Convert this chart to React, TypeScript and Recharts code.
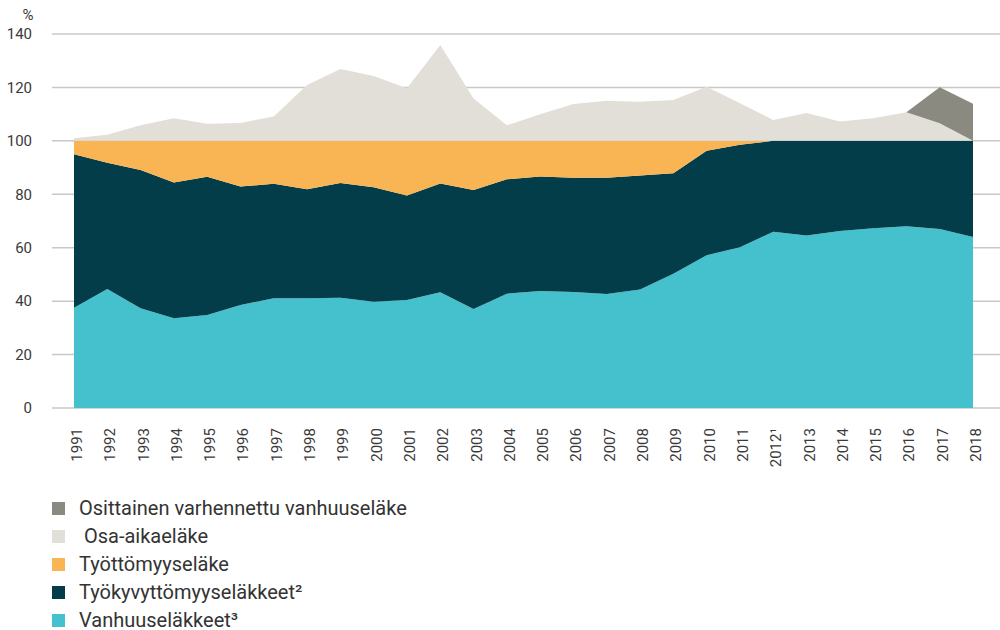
import React from 'react';
import { AreaChart, Area, XAxis, YAxis, CartesianGrid, Legend } from 'recharts';

const years = ['1991','1992','1993','1994','1995','1996','1997','1998','1999','2000','2001','2002','2003','2004','2005','2006','2007','2008','2009','2010','2011','2012¹','2013','2014','2015','2016','2017','2018'];

const vanhuus = [37.5,44.5,37.3,33.6,34.8,38.6,41.1,41.1,41.3,39.8,40.4,43.3,37.1,42.8,43.8,43.4,42.7,44.4,50.3,57.2,60.2,66.0,64.6,66.3,67.3,68.0,67.0,64.0];
const tyokyvyttomyys = [57.5,47.3,51.8,50.8,51.8,44.3,42.8,40.8,42.9,42.8,39.1,40.7,44.5,42.8,42.9,42.8,43.5,42.6,37.6,39.1,38.3,34.0,35.4,33.7,32.7,32.0,33.0,36.0];
const tyottomyys = [5.0,8.2,10.9,15.6,13.4,17.1,16.1,18.1,15.8,17.4,20.5,16.0,18.4,14.4,13.3,13.8,13.8,13.0,12.1,3.7,1.5,0,0,0,0,0,0,0];
const osaAika = [1.0,2.3,5.8,8.5,6.4,6.7,9.1,20.9,26.9,24.3,19.7,35.9,15.9,5.8,10.0,13.8,15.0,14.6,15.3,20.3,14.1,7.8,10.4,7.2,8.5,10.7,6.6,0];
const osittainen = [0,0,0,0,0,0,0,0,0,0,0,0,0,0,0,0,0,0,0,0,0,0,0,0,0,0,13.5,13.9];

const yTicks = [0,20,40,60,80,100,120,140];

const series = [
  { key: 'osittainen', name: 'Osittainen varhennettu vanhuuseläke', color: '#8a8a80' },
  { key: 'osaAika', name: ' Osa-aikaeläke', color: '#e1dfd7' },
  { key: 'tyottomyys', name: 'Työttömyyseläke', color: '#f9b454' },
  { key: 'tyokyvyttomyys', name: 'Työkyvyttömyyseläkkeet²', color: '#033d4a' },
  { key: 'vanhuus', name: 'Vanhuuseläkkeet³', color: '#44c1cd' },
];

const data = years.map((y, i) => ({
  year: y,
  vanhuus: vanhuus[i],
  tyokyvyttomyys: tyokyvyttomyys[i],
  tyottomyys: tyottomyys[i],
  osaAika: osaAika[i],
  osittainen: osittainen[i],
}));

const FONT = 'Roboto, "Noto Sans", sans-serif';

const XTick = (props: any) => {
  const { x, y, payload } = props;
  return (
    <text x={x} y={y + 12} transform={`rotate(-90, ${x}, ${y + 12})`} textAnchor="end" dy={8}
      fontSize={15} fill="#3a3a3a" fontFamily={FONT}>
      {payload.value}
    </text>
  );
};

const LegendContent = () => (
  <div style={{ height: 140, boxSizing: 'border-box', overflow: 'visible', paddingLeft: 52, paddingTop: 4, fontFamily: FONT, fontSize: 20, color: '#333' }}>
    {series.map((s) => (
      <div key={s.key} style={{ height: 28, display: 'flex', alignItems: 'center' }}>
        <span style={{ display: 'inline-block', width: 13, height: 13, background: s.color, marginRight: 14, flexShrink: 0 }} />
        <span style={{ whiteSpace: 'pre', lineHeight: '19px' }}>{s.name}</span>
      </div>
    ))}
  </div>
);

export default function App() {
  const stackOrder = [...series].reverse();
  return (
    <div style={{ position: 'absolute', left: 0, top: 0, width: 1000, height: 630, background: '#fff' }}>
      <AreaChart width={1000} height={630} data={data} margin={{ top: 34, right: 0, bottom: 0, left: 0 }}>
        <CartesianGrid vertical={false} stroke="#c8c8c8" strokeWidth={1.5} />
        <XAxis dataKey="year" interval={0} tick={<XTick />} tickLine={false} axisLine={false}
          height={82} padding={{ left: 22, right: 27 }} />
        <YAxis width={52} domain={[0, 140]} ticks={yTicks} tickLine={false} axisLine={false}
          tick={{ fontSize: 15, fill: '#3a3a3a', fontFamily: FONT, dx: -12 }}
          label={{ value: '%', position: 'top', offset: 14, fontSize: 15, fill: '#3a3a3a', fontFamily: FONT, dx: 2 }} />
        {stackOrder.map((s) => (
          <Area key={s.key} type="linear" dataKey={s.key} name={s.name} stackId="1" stroke="none"
            fill={s.color} fillOpacity={1} isAnimationActive={false} />
        ))}
        <Legend verticalAlign="bottom" align="left" content={<LegendContent />} />
      </AreaChart>
    </div>
  );
}
